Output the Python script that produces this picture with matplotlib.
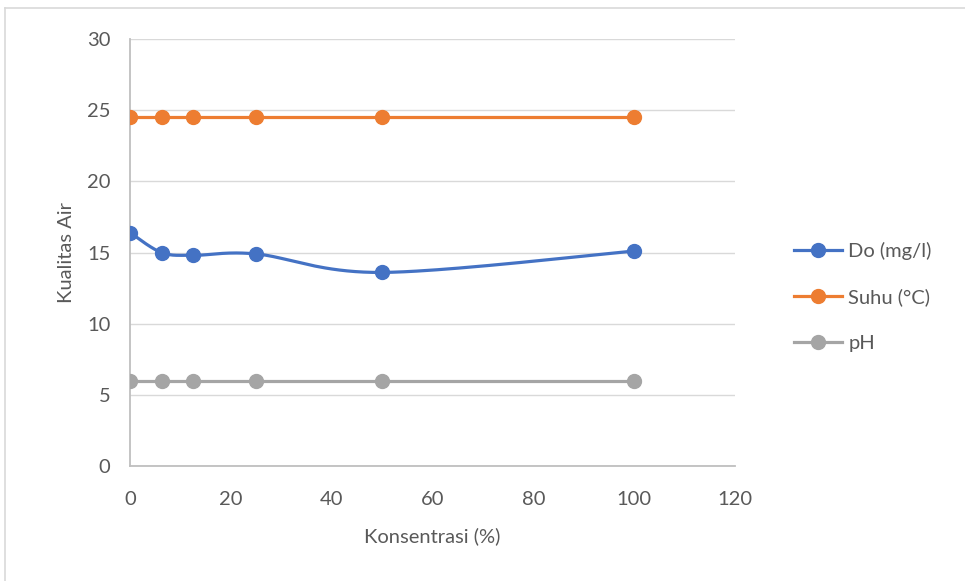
import numpy as np
import matplotlib
matplotlib.use("Agg")
import matplotlib.pyplot as plt
from matplotlib.lines import Line2D

plt.rcParams['font.family'] = ['Lato', 'DejaVu Sans']

konsentrasi = [0, 6.25, 12.5, 25, 50, 100]
do_mgl = [16.4, 15.0, 14.8, 14.9, 13.6, 15.1]
suhu = [24.5, 24.5, 24.5, 24.5, 24.5, 24.5]
ph = [6.0, 6.0, 6.0, 6.0, 6.0, 6.0]
series_names = ["Do (mg/l)", "Suhu (°C)", "pH"]
colors = ["#4472C4", "#ED7D31", "#A5A5A5"]
x_ticks = [0, 20, 40, 60, 80, 100, 120]
y_ticks = [0, 5, 10, 15, 20, 25, 30]


def smooth_curve(x, y, n=40):
    """Bezier smoothing through every point (spreadsheet-style smoothed line)."""
    x = np.asarray(x, float)
    y = np.asarray(y, float)
    px, py = [], []
    for i in range(len(x) - 1):
        x0, y0 = x[max(i - 1, 0)], y[max(i - 1, 0)]
        x1, y1 = x[i], y[i]
        x2, y2 = x[i + 1], y[i + 1]
        x3, y3 = x[min(i + 2, len(x) - 1)], y[min(i + 2, len(x) - 1)]
        c1x, c1y = x1 + (x2 - x0) / 6, y1 + (y2 - y0) / 6
        c2x, c2y = x2 - (x3 - x1) / 6, y2 - (y3 - y1) / 6
        t = np.linspace(0, 1, n)
        b0 = (1 - t) ** 3
        b1 = 3 * (1 - t) ** 2 * t
        b2 = 3 * (1 - t) * t ** 2
        b3 = t ** 3
        px.extend(b0 * x1 + b1 * c1x + b2 * c2x + b3 * x2)
        py.extend(b0 * y1 + b1 * c1y + b2 * c2y + b3 * y2)
    return np.array(px), np.array(py)


fig = plt.figure(figsize=(9.65, 5.81), dpi=100)
ax = fig.add_axes([130 / 965, 1 - 466 / 581, 605 / 965, 427 / 581])

lw = 2.3
ms = 10
sx, sy = smooth_curve(konsentrasi, do_mgl)
ax.plot(sx, sy, color=colors[0], lw=lw, zorder=3, solid_capstyle='round')
ax.plot(konsentrasi, do_mgl, 'o', color=colors[0], ms=ms, zorder=4)
ax.plot(konsentrasi, suhu, '-o', color=colors[1], lw=lw, ms=ms, zorder=3)
ax.plot(konsentrasi, ph, '-o', color=colors[2], lw=lw, ms=ms, zorder=3)

ax.set_xlim(0, 120)
ax.set_ylim(0, 30)
ax.set_xticks(x_ticks)
ax.set_yticks(y_ticks)
ax.grid(axis='y', color='#D9D9D9', lw=1)
ax.set_axisbelow(True)
for s in ['top', 'right']:
    ax.spines[s].set_visible(False)
for s in ['left', 'bottom']:
    ax.spines[s].set_color('#BFBFBF')
    ax.spines[s].set_linewidth(1.3)
ax.tick_params(length=0, labelsize=14.5, labelcolor='#595959', pad=14)
ax.tick_params(axis='x', pad=18)
ax.set_xlabel("Konsentrasi (%)", fontsize=14.5, color='#595959', labelpad=14)
ax.set_ylabel("Kualitas Air", fontsize=14.5, color='#595959', labelpad=9)
for t in ax.get_xticklabels() + ax.get_yticklabels():
    t.set_clip_on(False)

handles = [Line2D([0], [0], color=c, lw=lw, marker='o', ms=ms) for c in colors]
fig.legend(handles, series_names, loc='center left',
           bbox_to_anchor=(776 / 965, 1 - 297 / 581), frameon=False,
           fontsize=14.5, labelcolor='#595959', handlelength=2.4,
           labelspacing=1.4, handletextpad=0.3)

# chart frame (left and top edges)
fig.add_artist(Line2D([5 / 965, 5 / 965], [0, 1 - 8 / 581], color='#D9D9D9',
                      lw=1.2, transform=fig.transFigure))
fig.add_artist(Line2D([5 / 965, 1], [1 - 8 / 581, 1 - 8 / 581], color='#D9D9D9',
                      lw=1.2, transform=fig.transFigure))

fig.savefig("out.png", dpi=100)
